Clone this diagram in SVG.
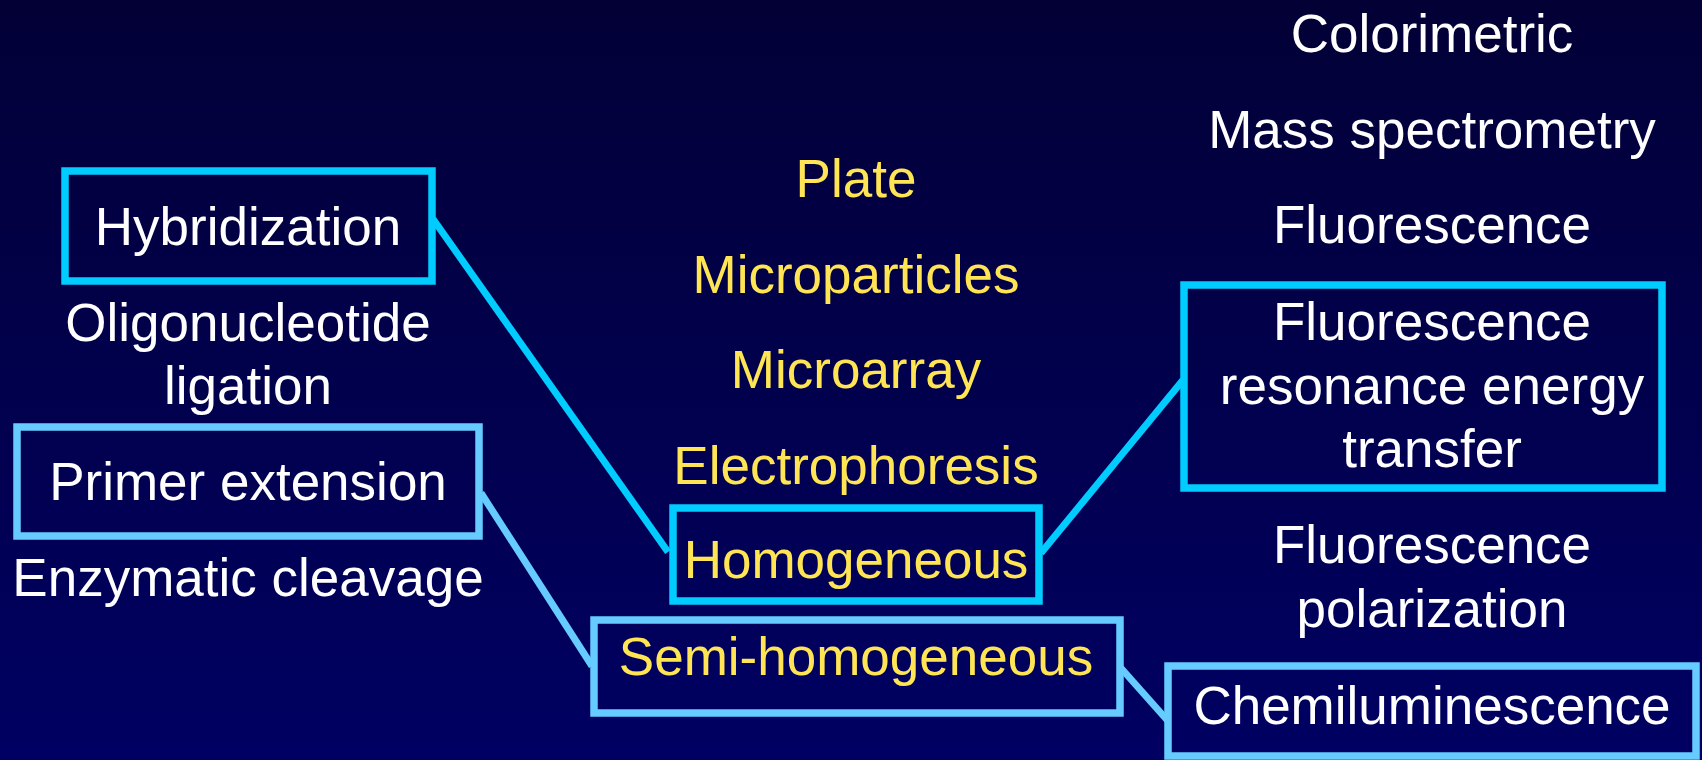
<svg xmlns="http://www.w3.org/2000/svg" width="1702" height="760" viewBox="0 0 1702 760">
<defs>
<linearGradient id="bg" x1="0" y1="0" x2="0" y2="1">
<stop offset="0" stop-color="#030036"/>
<stop offset="1" stop-color="#000063"/>
</linearGradient>
<style>
text{font-family:"Liberation Sans",Arial,sans-serif;font-size:53px;text-anchor:middle}
.w{fill:#FFFFFF}
.y{fill:#FFE553}
.b1{fill:none;stroke:#00CCFF;stroke-width:7.5}
.b2{fill:none;stroke:#66CCFF;stroke-width:7.5}
.c1{stroke:#00CCFF;stroke-width:7;fill:none}
.c2{stroke:#66CCFF;stroke-width:7;fill:none}
</style>
</defs>
<rect width="1702" height="760" fill="url(#bg)"/>
<g id="connectors">
<line class="c1" x1="433" y1="219" x2="668" y2="552"/>
<line class="c1" x1="1041" y1="553" x2="1183" y2="380"/>
<line class="c2" x1="481" y1="493" x2="592" y2="666"/>
<line class="c2" x1="1120" y1="667" x2="1168" y2="721"/>
</g>
<g id="hybridization">
<rect class="b1" x="65" y="171" width="367" height="110"/>
<text class="w" x="248" y="245">Hybridization</text>
</g>
<g id="oligo-ligation">
<text class="w" x="248" y="341">Oligonucleotide</text>
<text class="w" x="248" y="404">ligation</text>
</g>
<g id="primer-extension">
<rect class="b2" x="17" y="427" width="462" height="109"/>
<text class="w" x="248" y="500">Primer extension</text>
</g>
<g id="enzymatic-cleavage">
<text class="w" x="248" y="596">Enzymatic cleavage</text>
</g>
<g id="plate"><text class="y" x="856" y="197">Plate</text></g>
<g id="microparticles"><text class="y" x="856" y="293">Microparticles</text></g>
<g id="microarray"><text class="y" x="856" y="388">Microarray</text></g>
<g id="electrophoresis"><text class="y" x="856" y="484">Electrophoresis</text></g>
<g id="homogeneous">
<rect class="b1" x="673" y="508" width="366" height="93"/>
<text class="y" x="856" y="578">Homogeneous</text>
</g>
<g id="semi-homogeneous">
<rect class="b2" x="594" y="620" width="526" height="93"/>
<text class="y" x="856" y="675">Semi-homogeneous</text>
</g>
<g id="colorimetric"><text class="w" x="1432" y="52">Colorimetric</text></g>
<g id="mass-spectrometry"><text class="w" x="1432" y="148">Mass spectrometry</text></g>
<g id="fluorescence"><text class="w" x="1432" y="243">Fluorescence</text></g>
<g id="fret">
<rect class="b1" x="1184" y="285" width="478" height="203"/>
<text class="w" x="1432" y="340">Fluorescence</text>
<text class="w" x="1432" y="404">resonance energy</text>
<text class="w" x="1432" y="467">transfer</text>
</g>
<g id="fluorescence-polarization">
<text class="w" x="1432" y="563">Fluorescence</text>
<text class="w" x="1432" y="627">polarization</text>
</g>
<g id="chemiluminescence">
<rect class="b2" x="1168" y="666" width="528" height="90"/>
<text class="w" x="1432" y="724">Chemiluminescence</text>
</g>
</svg>
